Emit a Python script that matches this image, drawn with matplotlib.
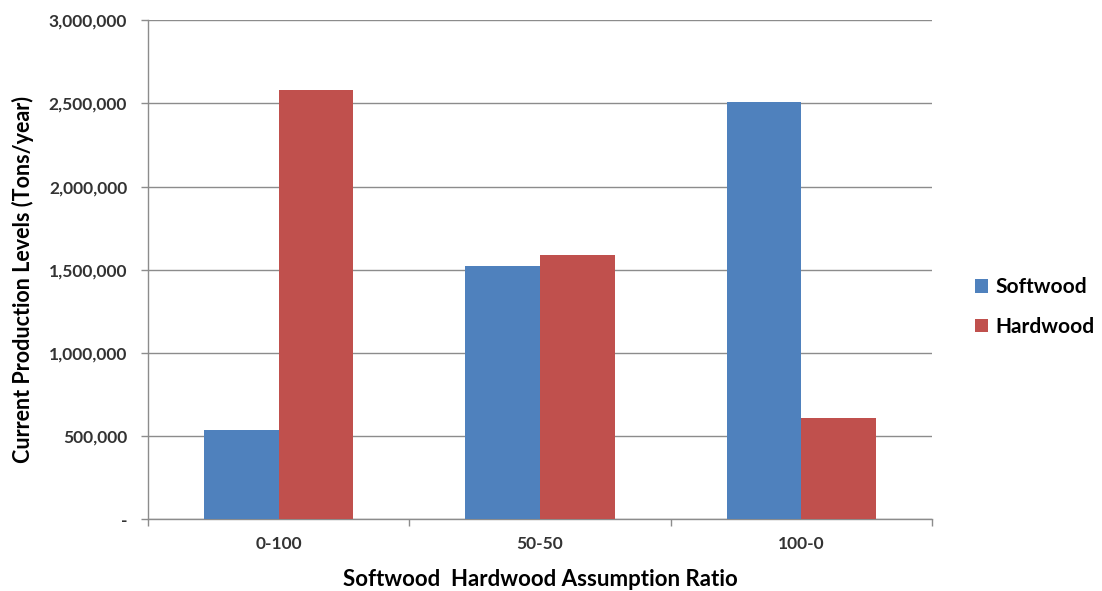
import numpy as np
import matplotlib.pyplot as plt
from matplotlib.ticker import FuncFormatter, FixedLocator

plt.rcParams['font.family'] = ['Lato', 'DejaVu Sans']

ratios = ['0-100', '50-50', '100-0']
softwood = [540000, 1520000, 2510000]
hardwood = [2580000, 1590000, 610000]

blue = '#4F81BD'
red = '#C0504D'
grid_gray = '#8C8C8C'

fig = plt.figure(figsize=(11.02, 5.91), dpi=100)
ax = fig.add_axes([0.1343, 0.121, 0.7114, 0.845])

x = np.arange(len(ratios))
w = 1 / 3.5
ax.bar(x - w / 2, softwood, w, color=blue, label='Softwood', zorder=3)
ax.bar(x + w / 2, hardwood, w, color=red, label='Hardwood', zorder=3)

ax.set_xlim(-0.5, len(ratios) - 0.5)
ax.set_ylim(0, 3000000)
ax.set_yticks(np.arange(0, 3000001, 500000))
ax.yaxis.set_major_formatter(FuncFormatter(lambda v, p: '-' if v == 0 else f'{int(v):,}'))
ax.grid(axis='y', color=grid_gray, linewidth=1, zorder=0)

# category labels centred, tick marks on the boundaries
ax.set_xticks(x)
ax.set_xticklabels(ratios)
ax.tick_params(axis='x', which='major', length=0, pad=12)
ax.xaxis.set_minor_locator(FixedLocator(np.arange(-0.5, len(ratios), 1.0)))
ax.tick_params(axis='x', which='minor', length=5, color=grid_gray, width=1)
ax.tick_params(axis='y', length=5, color=grid_gray, width=1, pad=10)

for lbl in ax.get_xticklabels() + ax.get_yticklabels():
    lbl.set_fontsize(12.5)
    lbl.set_fontweight('bold')
    lbl.set_color('#333333')

for side in ['top', 'right']:
    ax.spines[side].set_visible(False)
for side in ['left', 'bottom']:
    ax.spines[side].set_color(grid_gray)
    ax.spines[side].set_linewidth(1)

ax.set_xlabel('Softwood  Hardwood Assumption Ratio', fontsize=16, fontweight='bold',
              labelpad=12)
ax.set_ylabel('Current Production Levels (Tons/year)', fontsize=15.5, fontweight='bold')
ax.yaxis.set_label_coords(-0.145, 0.48)

ax.legend(loc='center left', bbox_to_anchor=(0.868, 0.48), bbox_transform=fig.transFigure,
          frameon=False, prop={'size': 15, 'weight': 'bold'},
          handlelength=0.6, handleheight=0.6, handletextpad=0.35, labelspacing=0.95)

fig.savefig('out.png', dpi=100)
